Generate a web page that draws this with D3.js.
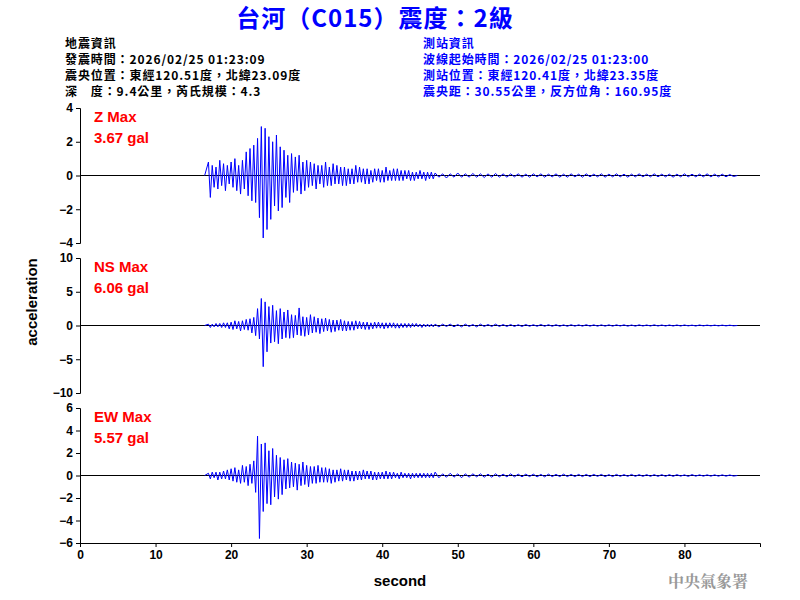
<!DOCTYPE html>
<html><head><meta charset="utf-8">
<script src="https://cdn.jsdelivr.net/npm/d3@7"></script>
<style>body{margin:0;background:#fff}</style>
</head><body>
<svg id="chart" width="800" height="600"></svg>
<script>
// waveform samples: main part every 0.25 s from 17 s, tail every 0.5 s from 47 s
var mainStart = 17, mainStep = 0.25, tailStart = 47, tailStep = 0.5
var zMain = [0.8,-1.3,0.6,-0.7, 0.5,-0.8,0.9,-0.6, 0.7,-0.9,0.6,-0.5, 0.8,-0.7,1.0,-0.9, 0.6,-1.1,0.9,-0.8,
  1.4,-1.2,1.6,-1.5, 1.8,-1.6,2.2,-2.5, 2.9,-3.7,2.8,-3.2, 2.3,-2.6,2.0,-1.8, 2.4,-2.1,1.7,-1.9,
  1.5,-1.3,1.2,-1.6, 1.3,-1.0,1.1,-0.9, 1.2,-1.1,0.8,-0.9, 0.9,-0.7,0.8,-0.6, 0.7,-0.8,0.6,-0.5,
  0.6,-0.7,0.8,-0.6, 0.5,-0.6,0.7,-0.5, 0.6,-0.5,0.5,-0.6, 0.5,-0.6,0.4,-0.5, 0.4,-0.5,0.6,-0.4,
  0.5,-0.4,0.4,-0.5, 0.4,-0.5,0.3,-0.4, 0.4,-0.3,0.4,-0.4, 0.3,-0.4,0.5,-0.3, 0.3,-0.3,0.4,-0.3,
  0.4,-0.3,0.3,-0.3, 0.3,-0.2,0.3,-0.3, 0.2,-0.3,0.2,-0.2, 0.3,-0.2,0.2,-0.3, 0.2,-0.2,0.2,-0.2]
var zTail = [0.15,-0.1,0.1,-0.15,0.1,-0.1,0.15,-0.1,0.1,-0.1,0.12,-0.1,0.1,-0.12,0.1,-0.1,0.12,-0.1,0.1,-0.1,
  0.1,-0.08,0.1,-0.1,0.08,-0.1,0.1,-0.08,0.1,-0.1,0.08,-0.08,0.1,-0.1,0.08,-0.1,0.1,-0.08,0.08,-0.1,
  0.1,-0.08,0.08,-0.08,0.1,-0.1,0.08,-0.08,0.1,-0.08,0.08,-0.1,0.08,-0.08,0.1,-0.08,0.08,-0.08,0.1,-0.08,
  0.08,-0.08,0.08,-0.1,0.08,-0.08,0.1,-0.08,0.08,-0.08,0.08,-0.08,0.1,-0.08,0.08,-0.08,0.08,-0.08,0.06,-0.06]
var nsMain = [0.2,-0.3,0.2,-0.2, 0.3,-0.2,0.3,-0.3, 0.4,-0.3,0.4,-0.5, 0.5,-0.6,0.7,-0.5, 0.6,-0.8,0.7,-0.6,
  0.9,-0.7,1.0,-1.1, 1.2,-1.5,2.5,-2.0, 4.0,-6.1,3.5,-3.9, 2.8,-2.6,3.0,-2.4, 2.2,-2.7,2.5,-2.0,
  2.0,-1.8,2.3,-1.9, 1.6,-1.8,1.5,-1.4, 2.6,-1.5,1.3,-1.6, 1.2,-1.4,1.6,-1.1, 1.3,-1.0,1.1,-1.2,
  1.0,-0.9,1.1,-0.8, 0.9,-1.0,0.8,-0.9, 0.8,-0.7,0.9,-0.8, 0.7,-0.8,0.6,-0.7, 0.6,-0.7,0.7,-0.5,
  0.6,-0.5,0.5,-0.6, 0.5,-0.6,0.4,-0.5, 0.5,-0.4,0.5,-0.4, 0.4,-0.5,0.4,-0.4, 0.4,-0.3,0.4,-0.4,
  0.3,-0.4,0.3,-0.3, 0.3,-0.3,0.3,-0.3, 0.3,-0.2,0.3,-0.2, 0.2,-0.3,0.2,-0.2, 0.2,-0.2,0.2,-0.2]
var nsTail = [0.2,-0.2,0.2,-0.15,0.2,-0.2,0.15,-0.2,0.2,-0.15,0.15,-0.2,0.2,-0.15,0.15,-0.15,0.2,-0.15,0.15,-0.15,
  0.15,-0.15,0.12,-0.15,0.15,-0.12,0.12,-0.12,0.15,-0.12,0.12,-0.12,0.12,-0.12,0.1,-0.12,0.12,-0.1,0.1,-0.1,
  0.12,-0.1,0.1,-0.1,0.1,-0.1,0.1,-0.1,0.1,-0.08,0.1,-0.1,0.08,-0.1,0.1,-0.08,0.08,-0.08,0.1,-0.08,
  0.08,-0.08,0.08,-0.08,0.08,-0.08,0.08,-0.06,0.06,-0.08,0.08,-0.06,0.06,-0.06,0.06,-0.06,0.06,-0.06,0.05,-0.05]
var ewMain = [0.2,-0.3,0.3,-0.2, 0.3,-0.4,0.3,-0.3, 0.4,-0.3,0.5,-0.4, 0.6,-0.5,0.7,-0.6, 0.5,-0.7,0.9,-0.6,
  0.8,-0.9,1.0,-0.7, 1.3,-1.5,3.5,-5.6, 2.8,-3.2,2.9,-2.5, 2.2,-2.6,2.4,-1.9, 1.8,-2.1,1.6,-1.7,
  1.4,-1.2,1.5,-1.1, 1.2,-1.0,1.1,-1.3, 1.0,-0.9,1.2,-0.8, 0.9,-1.0,0.8,-0.7, 0.8,-0.7,0.9,-0.6,
  0.7,-0.6,0.7,-0.6, 0.6,-0.7,0.5,-0.6, 0.5,-0.5,0.6,-0.5, 0.5,-0.4,0.5,-0.5, 0.4,-0.5,0.4,-0.4,
  0.4,-0.4,0.5,-0.3, 0.4,-0.3,0.4,-0.4, 0.3,-0.4,0.3,-0.3, 0.3,-0.3,0.4,-0.3, 0.3,-0.3,0.3,-0.2,
  0.2,-0.3,0.3,-0.2, 0.2,-0.2,0.2,-0.3, 0.2,-0.2,0.2,-0.2, 0.2,-0.2,0.2,-0.2, 0.2,-0.2,0.2,-0.2]
var ewTail = [0.3,-0.2,0.15,-0.15,0.2,-0.15,0.15,-0.2,0.15,-0.15,0.15,-0.12,0.15,-0.15,0.12,-0.15,0.15,-0.12,0.12,-0.12,
  0.15,-0.12,0.12,-0.12,0.12,-0.1,0.12,-0.12,0.1,-0.12,0.12,-0.1,0.1,-0.1,0.12,-0.1,0.1,-0.1,0.1,-0.1,
  0.1,-0.1,0.1,-0.08,0.1,-0.1,0.08,-0.1,0.1,-0.08,0.08,-0.08,0.1,-0.08,0.08,-0.08,0.08,-0.08,0.08,-0.08,
  0.08,-0.08,0.08,-0.08,0.08,-0.06,0.06,-0.08,0.08,-0.06,0.06,-0.06,0.06,-0.06,0.06,-0.06,0.06,-0.06,0.05,-0.05]

var channels = [
  { name: "Z Max", max: "3.67 gal", main: zMain, tail: zTail, domain: [-4, 4], ticks: [-4, -2, 0, 2, 4], top: 108 },
  { name: "NS Max", max: "6.06 gal", main: nsMain, tail: nsTail, domain: [-10, 10], ticks: [-10, -5, 0, 5, 10], top: 258 },
  { name: "EW Max", max: "5.57 gal", main: ewMain, tail: ewTail, domain: [-6, 6], ticks: [-6, -4, -2, 0, 2, 4, 6], top: 408 }
]
var xTicks = [0, 10, 20, 30, 40, 50, 60, 70, 80]
var title = "台河（C015）震度：2級"
var leftInfo = ["地震資訊", "發震時間：2026/02/25 01:23:09", "震央位置：東經120.51度，北緯23.09度", "深　度：9.4公里，芮氏規模：4.3"]
var rightInfo = ["測站資訊", "波線起始時間：2026/02/25 01:23:00", "測站位置：東經120.41度，北緯23.35度", "震央距：30.55公里，反方位角：160.95度"]

var svg = d3.select("#chart")
var font = "Arial, 'Liberation Sans', sans-serif"
var cjk = "'Noto Sans CJK TC', sans-serif"
var x = d3.scaleLinear().domain([0, 90]).range([80, 760])
var panelH = 135

svg.append("text").attr("x", 375).attr("y", 27).attr("text-anchor", "middle").attr("fill", "#0000ff")
  .style("font", "bold 24px " + cjk).style("letter-spacing", "1px").text(title)
leftInfo.forEach((t, i) => svg.append("text").attr("x", 65).attr("y", 48 + i * 16).attr("fill", "#000")
  .style("font", "bold 12px " + cjk).style("letter-spacing", "0.9px").text(t))
rightInfo.forEach((t, i) => svg.append("text").attr("x", 423).attr("y", 48 + i * 16).attr("fill", "#0000ff")
  .style("font", "bold 12px " + cjk).style("letter-spacing", "0.9px").text(t))

channels.forEach(ch => {
  var y = d3.scaleLinear().domain(ch.domain).range([ch.top + panelH, ch.top])
  var g = svg.append("g")
  g.append("g").attr("transform", "translate(80,0)")
    .call(d3.axisLeft(y).tickValues(ch.ticks).tickSize(4).tickFormat(d3.format("d")))
    .call(a => a.selectAll("text").style("font", "bold 12px " + font).attr("fill", "#000"))
    .call(a => a.select(".domain").attr("stroke", "#000"))
  g.append("line").attr("x1", x(0)).attr("x2", x(90)).attr("y1", y(0)).attr("y2", y(0)).attr("stroke", "#000")
  var pts = [[mainStart - 0.5, 0]]
  ch.main.forEach((v, i) => pts.push([mainStart + i * mainStep, v]))
  ch.tail.forEach((v, i) => pts.push([tailStart + i * tailStep, v]))
  pts.push([tailStart + ch.tail.length * tailStep, 0])
  g.append("path").datum(pts).attr("fill", "none").attr("stroke", "#0000ff").attr("stroke-width", 1)
    .attr("d", d3.line().x(d => x(d[0])).y(d => y(d[1])))
  g.append("text").attr("x", 94).attr("y", ch.top + 14).attr("fill", "#ff0000").style("font", "bold 15px " + font).text(ch.name)
  g.append("text").attr("x", 94).attr("y", ch.top + 35).attr("fill", "#ff0000").style("font", "bold 15px " + font).text(ch.max)
})

svg.append("g").attr("transform", "translate(0,543)")
  .call(d3.axisBottom(x).tickValues(xTicks).tickSize(4).tickFormat(d3.format("d")))
  .call(a => a.selectAll("text").style("font", "bold 12px " + font).attr("fill", "#000"))
  .call(a => a.select(".domain").attr("stroke", "#000"))

svg.append("text").attr("x", 400).attr("y", 586).attr("text-anchor", "middle").style("font", "bold 15px " + font).text("second")
svg.append("text").attr("transform", "translate(37,302) rotate(-90)").attr("text-anchor", "middle")
  .style("font", "bold 15px " + font).text("acceleration")
svg.append("text").attr("x", 748).attr("y", 587).attr("text-anchor", "end").attr("fill", "#999")
  .style("font", "bold 16px 'Noto Serif CJK TC', " + cjk).text("中央氣象署")
</script>
</body></html>
